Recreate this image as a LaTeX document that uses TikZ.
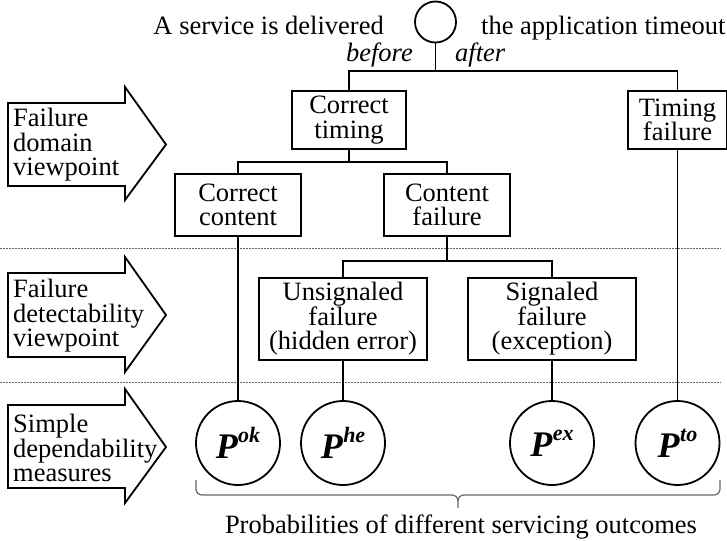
\documentclass[tikz,border=0pt]{standalone}
\usepackage{fontspec}
\setmainfont{Liberation Serif}
\newcommand{\pmeas}[1]{{\fontsize{36}{36}\selectfont\bfseries\itshape P\kern0.5pt\raisebox{16pt}{\fontsize{22}{22}\selectfont #1}}}
\tikzset{
  every node/.style={font=\fontsize{26.5}{24.5}\selectfont, inner sep=0pt},
  line/.style={line width=1.8pt},
  boxnode/.style={draw, line width=1.8pt, align=center},
  pnode/.style={draw, circle, line width=1.8pt, minimum size=84pt},
  arrowshape/.style={draw, line width=1.8pt, line join=miter},
  sep/.style={gray!80!black, line width=0.9pt, dash pattern=on 1.6pt off 1.4pt},
  bracestyle/.style={gray!80!black, line width=1.2pt}
}
\begin{document}
\begin{tikzpicture}[x=1pt,y=-1pt]
\useasboundingbox (0,0) rectangle (727,540);

% separators
\draw[sep] (0,248) -- (721,248);
\draw[sep] (0,382) -- (721,382);

% top
\node[draw, circle, line width=1.8pt, minimum size=41pt] (q) at (435.5,22) {};
\node[anchor=base east] (t1) at (384,35) {A service is delivered};
\node[anchor=base west] (t2) at (481,35) {the application timeout};
\node[anchor=base east] (bf) at (413,62) {\itshape before};
\node[anchor=base west] (af) at (455,62) {\itshape after};
\coordinate (j1) at (435.5,71);

% boxes
\node[boxnode, minimum width=114pt, minimum height=58pt] (ct) at (349,120) {Correct\\timing};
\node[boxnode, minimum width=99pt, minimum height=58pt] (tf) at (677.5,120) {Timing\\failure};
\node[boxnode, minimum width=126pt, minimum height=62pt] (cc) at (238,205) {Correct\\content};
\node[boxnode, minimum width=126pt, minimum height=62pt] (cf) at (447,205) {Content\\failure};
\node[boxnode, minimum width=168pt, minimum height=82pt] (uf) at (343,319) {Unsignaled\\failure\\(hidden error)};
\node[boxnode, minimum width=168pt, minimum height=82pt] (sf) at (552,319) {Signaled\\failure\\(exception)};
\coordinate (j2) at (349,162);
\coordinate (j3) at (447,261);

% probability circles
\node[pnode] (pok) at (238,443) {\pmeas{ok}};
\node[pnode] (phe) at (343,443) {\pmeas{he}};
\node[pnode] (pex) at (552,443) {\pmeas{ex}};
\node[pnode] (pto) at (677.5,443) {\pmeas{to}};

% connectors
\draw[line] (q.south) -- (j1);
\draw[line] (ct.north) |- (j1) -| (tf.north);
\draw[line] (ct.south) -- (j2);
\draw[line] (cc.north) |- (j2) -| (cf.north);
\draw[line] (cf.south) -- (j3);
\draw[line] (uf.north) |- (j3) -| (sf.north);
\draw[line] (cc.south) -- (pok.north);
\draw[line] (uf.south) -- (phe.north);
\draw[line] (sf.south) -- (pex.north);
\draw[line] (tf.south) -- (pto.north);

% left arrows
\draw[arrowshape] (8,103) -- (125,103) -- (125,87) -- (166,144.5) -- (125,200) -- (125,186) -- (8,186) -- cycle;
\node[anchor=west, align=left] (a1) at (13,145) {Failure\\domain\\viewpoint};
\draw[arrowshape] (8,273) -- (125,273) -- (125,257) -- (166,315) -- (125,372) -- (125,357) -- (8,357) -- cycle;
\node[anchor=west, align=left] (a2) at (13,316) {Failure\\detectability\\viewpoint};
\draw[arrowshape] (8,405) -- (125,405) -- (125,389) -- (166,447) -- (125,503) -- (125,488) -- (8,488) -- cycle;
\node[anchor=west, align=left] (a3) at (13,448) {Simple\\dependability\\measures};

% brace
\coordinate (bl) at (196,480);
\coordinate (br) at (720,480);
\coordinate (bt) at (458,508);
\draw[bracestyle] (bl) -- (196,489) to[out=-90,in=180] (202,495) -- (452,495) to[out=0,in=90] (458,501) -- (bt);
\draw[bracestyle] (br) -- (720,489) to[out=-90,in=0] (714,495) -- (464,495) to[out=180,in=90] (458,501);
\node[anchor=base] (prob) at (461,533) {Probabilities of different servicing outcomes};
\end{tikzpicture}
\end{document}
